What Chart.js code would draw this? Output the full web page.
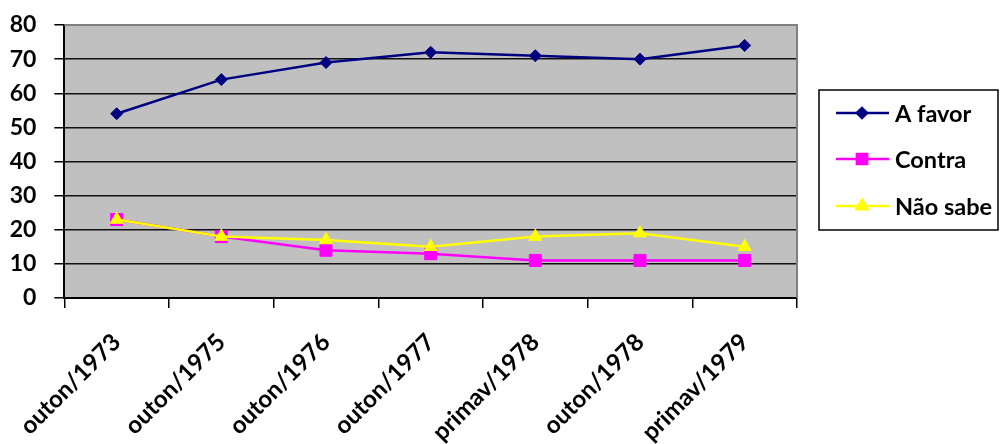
<!DOCTYPE html>
<html>
<head>
<meta charset="utf-8">
<script src="https://cdn.jsdelivr.net/npm/chart.js@4.4.1/dist/chart.umd.min.js"></script>
<style>
  html, body { margin: 0; padding: 0; background: #fff; }
  #wrap { width: 1000px; height: 444px; position: relative; }
</style>
</head>
<body>
<div id="wrap"><canvas id="c" width="1000" height="444"></canvas></div>
<script>
// Survey rounds
const categories = ['outon/1973', 'outon/1975', 'outon/1976', 'outon/1977', 'primav/1978', 'outon/1978', 'primav/1979'];
// Percent of respondents per answer
const aFavor  = [54, 64, 69, 72, 71, 70, 74];
const contra  = [23, 18, 14, 13, 11, 11, 11];
const naoSabe = [23, 18, 17, 15, 18, 19, 15];
const seriesNames = ['A favor', 'Contra', 'Não sabe'];
const yTicks = [0, 10, 20, 30, 40, 50, 60, 70, 80];

const FONT = 'Lato, "Liberation Sans", sans-serif';

// Grey plot background plus its grey top/right frame
const plotFrame = {
  id: 'plotFrame',
  beforeDraw(chart) {
    const { ctx, chartArea: a } = chart;
    ctx.save();
    ctx.fillStyle = '#c0c0c0';
    ctx.fillRect(a.left, a.top, a.right - a.left, a.bottom - a.top);
    ctx.restore();
  },
  afterDraw(chart) {
    const { ctx, chartArea: a } = chart;
    ctx.save();
    ctx.strokeStyle = '#808080';
    ctx.lineWidth = 2;
    ctx.beginPath();
    ctx.moveTo(a.left, a.top);
    ctx.lineTo(a.right, a.top);
    ctx.lineTo(a.right, a.bottom);
    ctx.stroke();
    ctx.restore();
  }
};

// Boxed legend with line + marker samples
const boxedLegend = {
  id: 'boxedLegend',
  afterDraw(chart) {
    const { ctx } = chart;
    const box = { x: 819, y: 90, w: 179, h: 140 };
    ctx.save();
    ctx.fillStyle = '#fff';
    ctx.fillRect(box.x, box.y, box.w, box.h);
    ctx.strokeStyle = '#000';
    ctx.lineWidth = 1.5;
    ctx.strokeRect(box.x, box.y, box.w, box.h);
    const rowY = [113, 159, 206];
    chart.data.datasets.forEach((ds, i) => {
      const y = rowY[i];
      ctx.strokeStyle = ds.borderColor;
      ctx.lineWidth = ds.borderWidth;
      ctx.beginPath();
      ctx.moveTo(836, y);
      ctx.lineTo(889, y);
      ctx.stroke();
      ctx.fillStyle = ds.pointBackgroundColor;
      ctx.strokeStyle = ds.pointBorderColor;
      Chart.helpers.drawPoint(ctx, {
        pointStyle: ds.pointStyle,
        radius: ds.pointRadius * 0.85,
        rotation: 0,
        borderWidth: ds.pointBorderWidth
      }, 862, y);
      ctx.fillStyle = '#000';
      ctx.font = 'bold 23.5px ' + FONT;
      ctx.textAlign = 'left';
      ctx.textBaseline = 'middle';
      ctx.fillText(ds.label, 895, y + 1);
    });
    ctx.restore();
  }
};

const styles = [
  { color: '#000080', style: 'rectRot', radius: 6 },
  { color: '#ff00ff', style: 'rect', radius: 8.5 },
  { color: '#ffff00', style: 'triangle', radius: 7.5 }
];
const values = [aFavor, contra, naoSabe];

const datasets = seriesNames.map((name, i) => ({
  label: name,
  data: values[i],
  borderColor: styles[i].color,
  backgroundColor: styles[i].color,
  pointBackgroundColor: styles[i].color,
  pointBorderColor: styles[i].color,
  pointBorderWidth: 1,
  pointStyle: styles[i].style,
  pointRadius: styles[i].radius,
  pointHoverRadius: styles[i].radius,
  borderWidth: 2.5,
  tension: 0,
  fill: false,
  order: 2 - i
}));

new Chart(document.getElementById('c'), {
  type: 'line',
  data: { labels: categories, datasets },
  plugins: [plotFrame, boxedLegend],
  options: {
    responsive: false,
    animation: false,
    devicePixelRatio: 1,
    layout: { padding: { top: 25, right: 203, left: 0, bottom: 0 } },
    plugins: {
      legend: { display: false },
      tooltip: { enabled: false }
    },
    scales: {
      x: {
        offset: true,
        grid: {
          offset: true,
          drawOnChartArea: false,
          drawTicks: true,
          tickLength: 10,
          color: '#000',
          lineWidth: 1.5
        },
        border: { display: true, color: '#000', width: 2 },
        ticks: {
          color: '#000',
          font: { family: FONT, size: 24, weight: 'bold' },
          minRotation: 45,
          maxRotation: 45,
          padding: 20,
          autoSkip: false
        },
        afterFit(scale) { scale.height = 146; }
      },
      y: {
        min: 0,
        max: 80,
        afterBuildTicks(scale) { scale.ticks = yTicks.map(v => ({ value: v })); },
        grid: {
          color: ctx => ctx.tick && ctx.tick.value === 80 ? '#808080' : '#111',
          lineWidth: 1.5,
          tickLength: 10,
          tickColor: '#000'
        },
        border: { display: true, color: '#000', width: 2 },
        ticks: {
          color: '#000',
          font: { family: FONT, size: 23, weight: 'bold' },
          padding: 18
        },
        afterFit(scale) {
          scale.width = 63;
          scale.paddingTop = 0;
          scale.paddingBottom = 0;
        }
      }
    }
  }
});
</script>
</body>
</html>
